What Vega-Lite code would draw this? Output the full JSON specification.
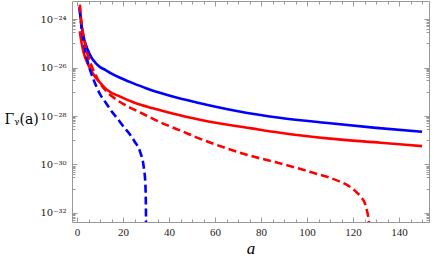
{
  "$schema": "https://vega.github.io/schema/vega-lite/v6.json",
  "width": 357,
  "height": 221,
  "autosize": {"type": "none"},
  "padding": {"left": 72, "top": 1, "right": 5, "bottom": 42},
  "background": "white",
  "config": {
    "view": {"stroke": "#999999", "strokeWidth": 1},
    "axis": {"domain": false, "grid": false, "tickColor": "#999999", "labelFont": "DejaVu Serif", "labelFontSize": 10, "labelColor": "#222222", "titleFont": "Liberation Serif", "titleFontWeight": "normal", "titleColor": "#000000"}
  },
  "data": {"values": [
    {"a": 1, "g": 3.16e-24, "s": "bs"},
    {"a": 2, "g": 5.01e-25, "s": "bs"},
    {"a": 3, "g": 1.58e-25, "s": "bs"},
    {"a": 4, "g": 7.94e-26, "s": "bs"},
    {"a": 5, "g": 4.47e-26, "s": "bs"},
    {"a": 6.8, "g": 2.14e-26, "s": "bs"},
    {"a": 8, "g": 1.58e-26, "s": "bs"},
    {"a": 10, "g": 1.05e-26, "s": "bs"},
    {"a": 12.4, "g": 7.94e-27, "s": "bs"},
    {"a": 15, "g": 5.62e-27, "s": "bs"},
    {"a": 18.9, "g": 3.72e-27, "s": "bs"},
    {"a": 24, "g": 2.34e-27, "s": "bs"},
    {"a": 30, "g": 1.41e-27, "s": "bs"},
    {"a": 40, "g": 7.08e-28, "s": "bs"},
    {"a": 53, "g": 3.47e-28, "s": "bs"},
    {"a": 70, "g": 1.58e-28, "s": "bs"},
    {"a": 88, "g": 8.51e-29, "s": "bs"},
    {"a": 110, "g": 5.01e-29, "s": "bs"},
    {"a": 130, "g": 3.24e-29, "s": "bs"},
    {"a": 150, "g": 2.24e-29, "s": "bs"},
    {"a": 1.2, "g": 3.16e-25, "s": "rs"},
    {"a": 2, "g": 1.0e-25, "s": "rs"},
    {"a": 3, "g": 3.8e-26, "s": "rs"},
    {"a": 4, "g": 2.0e-26, "s": "rs"},
    {"a": 5.9, "g": 8.32e-27, "s": "rs"},
    {"a": 8, "g": 3.98e-27, "s": "rs"},
    {"a": 10, "g": 2.4e-27, "s": "rs"},
    {"a": 13.1, "g": 1.2e-27, "s": "rs"},
    {"a": 18.7, "g": 6.31e-28, "s": "rs"},
    {"a": 25, "g": 3.55e-28, "s": "rs"},
    {"a": 33, "g": 2.09e-28, "s": "rs"},
    {"a": 47.3, "g": 9.33e-29, "s": "rs"},
    {"a": 61.6, "g": 5.01e-29, "s": "rs"},
    {"a": 75.9, "g": 3.09e-29, "s": "rs"},
    {"a": 87.6, "g": 2.09e-29, "s": "rs"},
    {"a": 110, "g": 1.17e-29, "s": "rs"},
    {"a": 132, "g": 7.94e-30, "s": "rs"},
    {"a": 150, "g": 5.75e-30, "s": "rs"},
    {"a": 1.2, "g": 2.63e-24, "s": "bd"},
    {"a": 2, "g": 3.98e-25, "s": "bd"},
    {"a": 3, "g": 1.0e-25, "s": "bd"},
    {"a": 4, "g": 3.16e-26, "s": "bd"},
    {"a": 5, "g": 1.26e-26, "s": "bd"},
    {"a": 6, "g": 6.31e-27, "s": "bd"},
    {"a": 7.4, "g": 2.82e-27, "s": "bd"},
    {"a": 8.5, "g": 1.58e-27, "s": "bd"},
    {"a": 10, "g": 7.94e-28, "s": "bd"},
    {"a": 12.5, "g": 3.55e-28, "s": "bd"},
    {"a": 15, "g": 1.58e-28, "s": "bd"},
    {"a": 17.5, "g": 7.94e-29, "s": "bd"},
    {"a": 20.3, "g": 3.55e-29, "s": "bd"},
    {"a": 23.3, "g": 1.58e-29, "s": "bd"},
    {"a": 25, "g": 8.91e-30, "s": "bd"},
    {"a": 27.5, "g": 3.16e-30, "s": "bd"},
    {"a": 28.9, "g": 8.91e-31, "s": "bd"},
    {"a": 29.7, "g": 1.58e-31, "s": "bd"},
    {"a": 29.95, "g": 1.0e-32, "s": "bd"},
    {"a": 30.0, "g": 3.16e-34, "s": "bd"},
    {"a": 1.2, "g": 3.98e-24, "s": "rd"},
    {"a": 2, "g": 6.31e-25, "s": "rd"},
    {"a": 3, "g": 1.58e-25, "s": "rd"},
    {"a": 4, "g": 5.62e-26, "s": "rd"},
    {"a": 6, "g": 1.41e-26, "s": "rd"},
    {"a": 8, "g": 5.01e-27, "s": "rd"},
    {"a": 10, "g": 2.24e-27, "s": "rd"},
    {"a": 13, "g": 1.0e-27, "s": "rd"},
    {"a": 17.5, "g": 4.47e-28, "s": "rd"},
    {"a": 22, "g": 2.51e-28, "s": "rd"},
    {"a": 27.4, "g": 1.41e-28, "s": "rd"},
    {"a": 36, "g": 5.62e-29, "s": "rd"},
    {"a": 45, "g": 2.51e-29, "s": "rd"},
    {"a": 53, "g": 1.2e-29, "s": "rd"},
    {"a": 64, "g": 5.01e-30, "s": "rd"},
    {"a": 75, "g": 2.34e-30, "s": "rd"},
    {"a": 86, "g": 1.26e-30, "s": "rd"},
    {"a": 96.5, "g": 6.76e-31, "s": "rd"},
    {"a": 104, "g": 4.17e-31, "s": "rd"},
    {"a": 109.4, "g": 2.95e-31, "s": "rd"},
    {"a": 114, "g": 2.0e-31, "s": "rd"},
    {"a": 118, "g": 1.32e-31, "s": "rd"},
    {"a": 121, "g": 7.94e-32, "s": "rd"},
    {"a": 123.5, "g": 4.47e-32, "s": "rd"},
    {"a": 125, "g": 2.69e-32, "s": "rd"},
    {"a": 126, "g": 1.26e-32, "s": "rd"},
    {"a": 126.8, "g": 5.01e-33, "s": "rd"},
    {"a": 127.3, "g": 1.58e-33, "s": "rd"},
    {"a": 127.6, "g": 3.16e-34, "s": "rd"}
  ]},
  "resolve": {"axis": {"x": "independent", "y": "independent"}, "scale": {"x": "shared", "y": "shared"}},
  "layer": [
    {
      "transform": [{"filter": "datum.s === 'bs'"}],
      "mark": {"type": "line", "color": "#0000ff", "strokeWidth": 2.6, "clip": true, "interpolate": "monotone"},
      "encoding": {
        "x": {"field": "a", "type": "quantitative", "scale": {"domain": [-2.2, 153], "nice": false, "zero": false},
              "axis": {"orient": "bottom", "values": [0, 20, 40, 60, 80, 100, 120, 140], "tickSize": -5, "labelPadding": 9, "labelFont": "Liberation Serif", "labelFontSize": 11, "title": "a", "titleFontStyle": "italic", "titleFontSize": 17, "titlePadding": 3}},
        "y": {"field": "g", "type": "quantitative", "scale": {"type": "log", "domain": [4.22e-33, 5.62e-24], "nice": false},
              "axis": {"orient": "left", "values": [1e-32, 1e-30, 1e-28, 1e-26, 1e-24], "tickSize": -5, "labelPadding": 11,
                       "labelExpr": "datum.value < 2e-32 ? '10⁻³²' : datum.value < 2e-30 ? '10⁻³⁰' : datum.value < 2e-28 ? '10⁻²⁸' : datum.value < 2e-26 ? '10⁻²⁶' : '10⁻²⁴'",
                       "title": "Γᵧ(a)", "titleFont": "DejaVu Serif", "titleAngle": 0, "titleAlign": "left", "titleBaseline": "middle", "titleX": -68, "titleY": 118, "titleFontSize": 14}}
      }
    },
    {
      "transform": [{"filter": "datum.s === 'rs'"}],
      "mark": {"type": "line", "color": "#ff0000", "strokeWidth": 2.6, "clip": true, "interpolate": "monotone"},
      "encoding": {
        "x": {"field": "a", "type": "quantitative", "scale": {"domain": [-2.2, 153], "nice": false, "zero": false},
              "axis": {"orient": "bottom", "values": [5, 10, 15, 25, 30, 35, 45, 50, 55, 65, 70, 75, 85, 90, 95, 105, 110, 115, 125, 130, 135, 145, 150], "tickSize": -3, "labels": false, "title": null}},
        "y": {"field": "g", "type": "quantitative", "scale": {"type": "log", "domain": [4.22e-33, 5.62e-24], "nice": false},
              "axis": {"orient": "left", "values": [3e-25, 4e-25, 5e-25, 6e-25, 7e-25, 8e-25, 9e-25, 1e-25, 3e-27, 4e-27, 5e-27, 6e-27, 7e-27, 8e-27, 9e-27, 1e-27, 3e-29, 4e-29, 5e-29, 6e-29, 7e-29, 8e-29, 9e-29, 1e-29, 3e-31, 4e-31, 5e-31, 6e-31, 7e-31, 8e-31, 9e-31, 1e-31, 5e-33, 6e-33, 7e-33, 8e-33, 9e-33], "tickSize": -3, "labels": false, "title": null}}
      }
    },
    {
      "transform": [{"filter": "datum.s === 'bd'"}],
      "mark": {"type": "line", "color": "#0000ff", "strokeWidth": 2.6, "strokeDash": [8, 4], "clip": true, "interpolate": "monotone"},
      "encoding": {
        "x": {"field": "a", "type": "quantitative", "scale": {"domain": [-2.2, 153], "nice": false, "zero": false},
              "axis": {"orient": "top", "values": [0, 20, 40, 60, 80, 100, 120, 140], "tickSize": -5, "labels": false, "title": null}},
        "y": {"field": "g", "type": "quantitative", "scale": {"type": "log", "domain": [4.22e-33, 5.62e-24], "nice": false},
              "axis": {"orient": "right", "values": [1e-32, 1e-30, 1e-28, 1e-26, 1e-24], "tickSize": -5, "labels": false, "title": null}}
      }
    },
    {
      "transform": [{"filter": "datum.s === 'rd'"}],
      "mark": {"type": "line", "color": "#ff0000", "strokeWidth": 2.6, "strokeDash": [8, 4], "clip": true, "interpolate": "monotone"},
      "encoding": {
        "x": {"field": "a", "type": "quantitative", "scale": {"domain": [-2.2, 153], "nice": false, "zero": false},
              "axis": {"orient": "top", "values": [5, 10, 15, 25, 30, 35, 45, 50, 55, 65, 70, 75, 85, 90, 95, 105, 110, 115, 125, 130, 135, 145, 150], "tickSize": -3, "labels": false, "title": null}},
        "y": {"field": "g", "type": "quantitative", "scale": {"type": "log", "domain": [4.22e-33, 5.62e-24], "nice": false},
              "axis": {"orient": "right", "values": [3e-25, 4e-25, 5e-25, 6e-25, 7e-25, 8e-25, 9e-25, 1e-25, 3e-27, 4e-27, 5e-27, 6e-27, 7e-27, 8e-27, 9e-27, 1e-27, 3e-29, 4e-29, 5e-29, 6e-29, 7e-29, 8e-29, 9e-29, 1e-29, 3e-31, 4e-31, 5e-31, 6e-31, 7e-31, 8e-31, 9e-31, 1e-31, 5e-33, 6e-33, 7e-33, 8e-33, 9e-33], "tickSize": -3, "labels": false, "title": null}}
      }
    }
  ]
}
